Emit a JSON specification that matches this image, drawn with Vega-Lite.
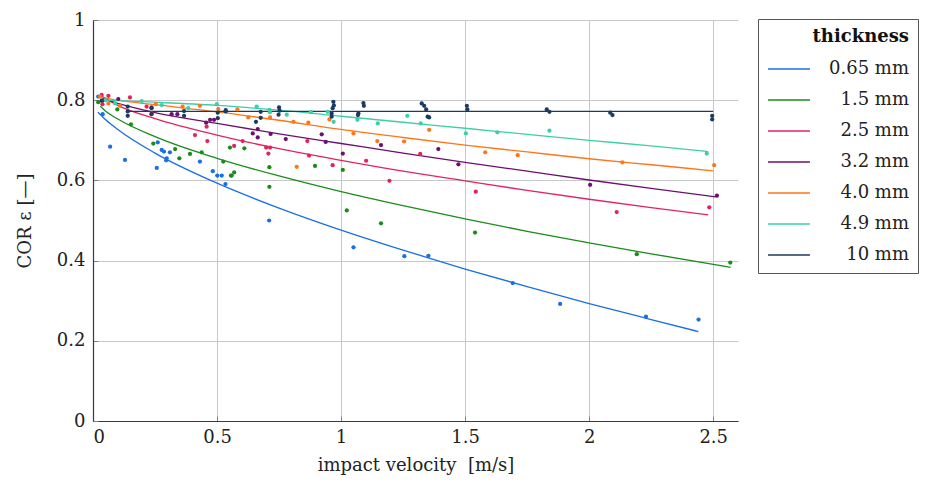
{
  "$schema": "https://vega.github.io/schema/vega-lite/v6.json",
  "width": 645,
  "height": 401,
  "autosize": "none",
  "padding": {"left": 93, "top": 20, "right": 188, "bottom": 65},
  "background": "white",
  "config": {
    "view": {"stroke": null},
    "font": "DejaVu Serif",
    "axis": {
      "domainColor": "#3a3a3a",
      "domainWidth": 1.2,
      "tickColor": "#808080",
      "tickSize": -5,
      "tickWidth": 1,
      "gridColor": "#c8c8c8",
      "gridWidth": 1,
      "labelFont": "DejaVu Serif",
      "labelFontSize": 18,
      "labelColor": "#222",
      "titleFont": "DejaVu Serif",
      "titleFontSize": 18,
      "titleFontWeight": "normal",
      "titleColor": "#222"
    },
    "legend": {
      "orient": "none",
      "legendX": 665,
      "legendY": -1,
      "strokeColor": "#555",
      "padding": 9,
      "titleFont": "DejaVu Serif",
      "titleFontSize": 18,
      "titleFontWeight": "bold",
      "titleColor": "#111",
      "titleAnchor": "end",
      "titleAlign": "right",
      "titlePadding": 1,
      "labelFont": "DejaVu Serif",
      "labelFontSize": 18,
      "labelColor": "#222",
      "symbolType": "stroke",
      "symbolSize": 1760,
      "symbolStrokeWidth": 1.3,
      "labelAlign": "right",
      "labelOffset": 98,
      "rowPadding": 0
    }
  },
  "datasets": {
    "fits": [
      {"t": "0.65 mm", "v": 0.02, "e": 0.770}, {"t": "0.65 mm", "v": 0.05, "e": 0.752}, {"t": "0.65 mm", "v": 0.1, "e": 0.727}, {"t": "0.65 mm", "v": 0.25, "e": 0.668}, {"t": "0.65 mm", "v": 0.5, "e": 0.593}, {"t": "0.65 mm", "v": 0.75, "e": 0.531}, {"t": "0.65 mm", "v": 1.0, "e": 0.476}, {"t": "0.65 mm", "v": 1.25, "e": 0.426}, {"t": "0.65 mm", "v": 1.5, "e": 0.379}, {"t": "0.65 mm", "v": 1.75, "e": 0.335}, {"t": "0.65 mm", "v": 2.0, "e": 0.293}, {"t": "0.65 mm", "v": 2.25, "e": 0.253}, {"t": "0.65 mm", "v": 2.44, "e": 0.223},
      {"t": "1.5 mm", "v": 0.03, "e": 0.785}, {"t": "1.5 mm", "v": 0.05, "e": 0.773}, {"t": "1.5 mm", "v": 0.1, "e": 0.753}, {"t": "1.5 mm", "v": 0.25, "e": 0.709}, {"t": "1.5 mm", "v": 0.5, "e": 0.655}, {"t": "1.5 mm", "v": 0.75, "e": 0.611}, {"t": "1.5 mm", "v": 1.0, "e": 0.572}, {"t": "1.5 mm", "v": 1.25, "e": 0.537}, {"t": "1.5 mm", "v": 1.5, "e": 0.504}, {"t": "1.5 mm", "v": 1.75, "e": 0.473}, {"t": "1.5 mm", "v": 2.0, "e": 0.444}, {"t": "1.5 mm", "v": 2.25, "e": 0.417}, {"t": "1.5 mm", "v": 2.57, "e": 0.383},
      {"t": "2.5 mm", "v": 0.03, "e": 0.812}, {"t": "2.5 mm", "v": 0.1, "e": 0.787}, {"t": "2.5 mm", "v": 0.25, "e": 0.754}, {"t": "2.5 mm", "v": 0.5, "e": 0.713}, {"t": "2.5 mm", "v": 0.75, "e": 0.679}, {"t": "2.5 mm", "v": 1.0, "e": 0.650}, {"t": "2.5 mm", "v": 1.25, "e": 0.623}, {"t": "2.5 mm", "v": 1.5, "e": 0.599}, {"t": "2.5 mm", "v": 1.75, "e": 0.575}, {"t": "2.5 mm", "v": 2.0, "e": 0.553}, {"t": "2.5 mm", "v": 2.25, "e": 0.532}, {"t": "2.5 mm", "v": 2.48, "e": 0.514},
      {"t": "3.2 mm", "v": 0.04, "e": 0.803}, {"t": "3.2 mm", "v": 0.1, "e": 0.792}, {"t": "3.2 mm", "v": 0.25, "e": 0.769}, {"t": "3.2 mm", "v": 0.5, "e": 0.742}, {"t": "3.2 mm", "v": 0.75, "e": 0.716}, {"t": "3.2 mm", "v": 1.0, "e": 0.692}, {"t": "3.2 mm", "v": 1.25, "e": 0.668}, {"t": "3.2 mm", "v": 1.5, "e": 0.645}, {"t": "3.2 mm", "v": 1.75, "e": 0.623}, {"t": "3.2 mm", "v": 2.0, "e": 0.601}, {"t": "3.2 mm", "v": 2.25, "e": 0.580}, {"t": "3.2 mm", "v": 2.51, "e": 0.559},
      {"t": "4.0 mm", "v": 0.03, "e": 0.808}, {"t": "4.0 mm", "v": 0.1, "e": 0.800}, {"t": "4.0 mm", "v": 0.25, "e": 0.789}, {"t": "4.0 mm", "v": 0.5, "e": 0.771}, {"t": "4.0 mm", "v": 0.75, "e": 0.750}, {"t": "4.0 mm", "v": 1.0, "e": 0.727}, {"t": "4.0 mm", "v": 1.25, "e": 0.707}, {"t": "4.0 mm", "v": 1.5, "e": 0.688}, {"t": "4.0 mm", "v": 1.75, "e": 0.671}, {"t": "4.0 mm", "v": 2.0, "e": 0.654}, {"t": "4.0 mm", "v": 2.25, "e": 0.639}, {"t": "4.0 mm", "v": 2.5, "e": 0.624},
      {"t": "4.9 mm", "v": 0.03, "e": 0.801}, {"t": "4.9 mm", "v": 0.1, "e": 0.799}, {"t": "4.9 mm", "v": 0.25, "e": 0.795}, {"t": "4.9 mm", "v": 0.5, "e": 0.787}, {"t": "4.9 mm", "v": 0.75, "e": 0.775}, {"t": "4.9 mm", "v": 1.0, "e": 0.760}, {"t": "4.9 mm", "v": 1.25, "e": 0.745}, {"t": "4.9 mm", "v": 1.5, "e": 0.730}, {"t": "4.9 mm", "v": 1.75, "e": 0.715}, {"t": "4.9 mm", "v": 2.0, "e": 0.700}, {"t": "4.9 mm", "v": 2.25, "e": 0.686}, {"t": "4.9 mm", "v": 2.48, "e": 0.672},
      {"t": "10 mm", "v": 0.14, "e": 0.772}, {"t": "10 mm", "v": 2.5, "e": 0.772}
    ],
    "pts": [
      {"t": "0.65 mm", "v": 0.021, "e": 0.809}, {"t": "0.65 mm", "v": 0.039, "e": 0.765}, {"t": "0.65 mm", "v": 0.069, "e": 0.684}, {"t": "0.65 mm", "v": 0.129, "e": 0.651}, {"t": "0.65 mm", "v": 0.261, "e": 0.695}, {"t": "0.65 mm", "v": 0.257, "e": 0.631}, {"t": "0.65 mm", "v": 0.277, "e": 0.676}, {"t": "0.65 mm", "v": 0.286, "e": 0.672}, {"t": "0.65 mm", "v": 0.297, "e": 0.655}, {"t": "0.65 mm", "v": 0.295, "e": 0.650}, {"t": "0.65 mm", "v": 0.31, "e": 0.670}, {"t": "0.65 mm", "v": 0.431, "e": 0.647}, {"t": "0.65 mm", "v": 0.483, "e": 0.623}, {"t": "0.65 mm", "v": 0.501, "e": 0.612}, {"t": "0.65 mm", "v": 0.519, "e": 0.612}, {"t": "0.65 mm", "v": 0.534, "e": 0.591}, {"t": "0.65 mm", "v": 0.556, "e": 0.612}, {"t": "0.65 mm", "v": 0.71, "e": 0.500}, {"t": "0.65 mm", "v": 1.05, "e": 0.433}, {"t": "0.65 mm", "v": 1.255, "e": 0.411}, {"t": "0.65 mm", "v": 1.352, "e": 0.412}, {"t": "0.65 mm", "v": 1.692, "e": 0.344}, {"t": "0.65 mm", "v": 1.883, "e": 0.292}, {"t": "0.65 mm", "v": 2.229, "e": 0.260}, {"t": "0.65 mm", "v": 2.441, "e": 0.253},
      {"t": "1.5 mm", "v": 0.021, "e": 0.795}, {"t": "1.5 mm", "v": 0.098, "e": 0.777}, {"t": "1.5 mm", "v": 0.153, "e": 0.740}, {"t": "1.5 mm", "v": 0.243, "e": 0.692}, {"t": "1.5 mm", "v": 0.331, "e": 0.678}, {"t": "1.5 mm", "v": 0.348, "e": 0.655}, {"t": "1.5 mm", "v": 0.391, "e": 0.666}, {"t": "1.5 mm", "v": 0.438, "e": 0.670}, {"t": "1.5 mm", "v": 0.525, "e": 0.647}, {"t": "1.5 mm", "v": 0.552, "e": 0.682}, {"t": "1.5 mm", "v": 0.569, "e": 0.620}, {"t": "1.5 mm", "v": 0.559, "e": 0.612}, {"t": "1.5 mm", "v": 0.61, "e": 0.680}, {"t": "1.5 mm", "v": 0.711, "e": 0.633}, {"t": "1.5 mm", "v": 0.711, "e": 0.584}, {"t": "1.5 mm", "v": 0.895, "e": 0.636}, {"t": "1.5 mm", "v": 1.007, "e": 0.626}, {"t": "1.5 mm", "v": 1.023, "e": 0.525}, {"t": "1.5 mm", "v": 1.161, "e": 0.493}, {"t": "1.5 mm", "v": 1.54, "e": 0.470}, {"t": "1.5 mm", "v": 2.192, "e": 0.416}, {"t": "1.5 mm", "v": 2.569, "e": 0.395},
      {"t": "2.5 mm", "v": 0.035, "e": 0.813}, {"t": "2.5 mm", "v": 0.062, "e": 0.811}, {"t": "2.5 mm", "v": 0.149, "e": 0.807}, {"t": "2.5 mm", "v": 0.038, "e": 0.790}, {"t": "2.5 mm", "v": 0.216, "e": 0.784}, {"t": "2.5 mm", "v": 0.236, "e": 0.767}, {"t": "2.5 mm", "v": 0.411, "e": 0.713}, {"t": "2.5 mm", "v": 0.458, "e": 0.734}, {"t": "2.5 mm", "v": 0.461, "e": 0.698}, {"t": "2.5 mm", "v": 0.569, "e": 0.686}, {"t": "2.5 mm", "v": 0.603, "e": 0.698}, {"t": "2.5 mm", "v": 0.698, "e": 0.682}, {"t": "2.5 mm", "v": 0.714, "e": 0.682}, {"t": "2.5 mm", "v": 0.707, "e": 0.667}, {"t": "2.5 mm", "v": 0.864, "e": 0.698}, {"t": "2.5 mm", "v": 0.871, "e": 0.662}, {"t": "2.5 mm", "v": 0.966, "e": 0.638}, {"t": "2.5 mm", "v": 1.101, "e": 0.649}, {"t": "2.5 mm", "v": 1.195, "e": 0.599}, {"t": "2.5 mm", "v": 1.319, "e": 0.666}, {"t": "2.5 mm", "v": 1.543, "e": 0.572}, {"t": "2.5 mm", "v": 2.111, "e": 0.521}, {"t": "2.5 mm", "v": 2.484, "e": 0.533},
      {"t": "3.2 mm", "v": 0.042, "e": 0.800}, {"t": "3.2 mm", "v": 0.102, "e": 0.803}, {"t": "3.2 mm", "v": 0.236, "e": 0.782}, {"t": "3.2 mm", "v": 0.317, "e": 0.765}, {"t": "3.2 mm", "v": 0.34, "e": 0.765}, {"t": "3.2 mm", "v": 0.456, "e": 0.744}, {"t": "3.2 mm", "v": 0.472, "e": 0.751}, {"t": "3.2 mm", "v": 0.488, "e": 0.751}, {"t": "3.2 mm", "v": 0.644, "e": 0.717}, {"t": "3.2 mm", "v": 0.664, "e": 0.728}, {"t": "3.2 mm", "v": 0.664, "e": 0.707}, {"t": "3.2 mm", "v": 0.716, "e": 0.716}, {"t": "3.2 mm", "v": 0.777, "e": 0.703}, {"t": "3.2 mm", "v": 0.922, "e": 0.715}, {"t": "3.2 mm", "v": 0.938, "e": 0.696}, {"t": "3.2 mm", "v": 1.007, "e": 0.667}, {"t": "3.2 mm", "v": 1.161, "e": 0.688}, {"t": "3.2 mm", "v": 1.392, "e": 0.678}, {"t": "3.2 mm", "v": 1.473, "e": 0.640}, {"t": "3.2 mm", "v": 2.004, "e": 0.589}, {"t": "3.2 mm", "v": 2.515, "e": 0.562},
      {"t": "4.0 mm", "v": 0.028, "e": 0.809}, {"t": "4.0 mm", "v": 0.062, "e": 0.792}, {"t": "4.0 mm", "v": 0.109, "e": 0.786}, {"t": "4.0 mm", "v": 0.253, "e": 0.790}, {"t": "4.0 mm", "v": 0.361, "e": 0.784}, {"t": "4.0 mm", "v": 0.431, "e": 0.786}, {"t": "4.0 mm", "v": 0.505, "e": 0.778}, {"t": "4.0 mm", "v": 0.582, "e": 0.777}, {"t": "4.0 mm", "v": 0.626, "e": 0.757}, {"t": "4.0 mm", "v": 0.714, "e": 0.757}, {"t": "4.0 mm", "v": 0.808, "e": 0.746}, {"t": "4.0 mm", "v": 0.821, "e": 0.634}, {"t": "4.0 mm", "v": 0.868, "e": 0.744}, {"t": "4.0 mm", "v": 0.953, "e": 0.752}, {"t": "4.0 mm", "v": 1.05, "e": 0.717}, {"t": "4.0 mm", "v": 1.146, "e": 0.698}, {"t": "4.0 mm", "v": 1.254, "e": 0.697}, {"t": "4.0 mm", "v": 1.355, "e": 0.726}, {"t": "4.0 mm", "v": 1.581, "e": 0.670}, {"t": "4.0 mm", "v": 1.712, "e": 0.663}, {"t": "4.0 mm", "v": 2.134, "e": 0.645}, {"t": "4.0 mm", "v": 2.504, "e": 0.638},
      {"t": "4.9 mm", "v": 0.05, "e": 0.800}, {"t": "4.9 mm", "v": 0.089, "e": 0.792}, {"t": "4.9 mm", "v": 0.196, "e": 0.798}, {"t": "4.9 mm", "v": 0.277, "e": 0.788}, {"t": "4.9 mm", "v": 0.384, "e": 0.780}, {"t": "4.9 mm", "v": 0.499, "e": 0.790}, {"t": "4.9 mm", "v": 0.66, "e": 0.784}, {"t": "4.9 mm", "v": 0.711, "e": 0.776}, {"t": "4.9 mm", "v": 0.713, "e": 0.770}, {"t": "4.9 mm", "v": 0.781, "e": 0.764}, {"t": "4.9 mm", "v": 0.878, "e": 0.770}, {"t": "4.9 mm", "v": 0.946, "e": 0.771}, {"t": "4.9 mm", "v": 0.97, "e": 0.746}, {"t": "4.9 mm", "v": 1.066, "e": 0.751}, {"t": "4.9 mm", "v": 1.148, "e": 0.742}, {"t": "4.9 mm", "v": 1.267, "e": 0.761}, {"t": "4.9 mm", "v": 1.321, "e": 0.742}, {"t": "4.9 mm", "v": 1.503, "e": 0.717}, {"t": "4.9 mm", "v": 1.63, "e": 0.720}, {"t": "4.9 mm", "v": 1.84, "e": 0.724}, {"t": "4.9 mm", "v": 2.474, "e": 0.667},
      {"t": "10 mm", "v": 0.035, "e": 0.799}, {"t": "10 mm", "v": 0.14, "e": 0.784}, {"t": "10 mm", "v": 0.14, "e": 0.772}, {"t": "10 mm", "v": 0.14, "e": 0.761}, {"t": "10 mm", "v": 0.236, "e": 0.780}, {"t": "10 mm", "v": 0.236, "e": 0.765}, {"t": "10 mm", "v": 0.367, "e": 0.773}, {"t": "10 mm", "v": 0.367, "e": 0.761}, {"t": "10 mm", "v": 0.503, "e": 0.769}, {"t": "10 mm", "v": 0.503, "e": 0.755}, {"t": "10 mm", "v": 0.535, "e": 0.775}, {"t": "10 mm", "v": 0.535, "e": 0.772}, {"t": "10 mm", "v": 0.657, "e": 0.746}, {"t": "10 mm", "v": 0.676, "e": 0.771}, {"t": "10 mm", "v": 0.676, "e": 0.756}, {"t": "10 mm", "v": 0.75, "e": 0.782}, {"t": "10 mm", "v": 0.752, "e": 0.774}, {"t": "10 mm", "v": 0.748, "e": 0.764}, {"t": "10 mm", "v": 0.969, "e": 0.796}, {"t": "10 mm", "v": 0.971, "e": 0.787}, {"t": "10 mm", "v": 0.966, "e": 0.780}, {"t": "10 mm", "v": 0.962, "e": 0.767}, {"t": "10 mm", "v": 0.962, "e": 0.759}, {"t": "10 mm", "v": 1.09, "e": 0.793}, {"t": "10 mm", "v": 1.092, "e": 0.786}, {"t": "10 mm", "v": 1.07, "e": 0.767}, {"t": "10 mm", "v": 1.068, "e": 0.763}, {"t": "10 mm", "v": 1.325, "e": 0.792}, {"t": "10 mm", "v": 1.335, "e": 0.786}, {"t": "10 mm", "v": 1.343, "e": 0.777}, {"t": "10 mm", "v": 1.349, "e": 0.759}, {"t": "10 mm", "v": 1.355, "e": 0.757}, {"t": "10 mm", "v": 1.507, "e": 0.786}, {"t": "10 mm", "v": 1.509, "e": 0.777}, {"t": "10 mm", "v": 1.829, "e": 0.777}, {"t": "10 mm", "v": 1.84, "e": 0.771}, {"t": "10 mm", "v": 2.085, "e": 0.769}, {"t": "10 mm", "v": 2.094, "e": 0.763}, {"t": "10 mm", "v": 2.496, "e": 0.761}, {"t": "10 mm", "v": 2.496, "e": 0.752}
    ]
  },
  "encoding": {
    "x": {
      "field": "v", "type": "quantitative",
      "scale": {"domain": [0, 2.6], "nice": false, "zero": false},
      "axis": {"title": "impact velocity\u00a0\u00a0[m/s]", "values": [0, 0.5, 1, 1.5, 2, 2.5], "format": "~g", "labelPadding": 12, "titlePadding": 10, "grid": true}
    },
    "y": {
      "field": "e", "type": "quantitative",
      "scale": {"domain": [0, 1], "nice": false},
      "axis": {"title": "COR ε [—]", "values": [0, 0.2, 0.4, 0.6, 0.8, 1], "format": "~g", "labelPadding": 13, "titlePadding": 22, "grid": true}
    },
    "color": {
      "field": "t", "type": "nominal",
      "scale": {
        "domain": ["0.65 mm", "1.5 mm", "2.5 mm", "3.2 mm", "4.0 mm", "4.9 mm", "10 mm"],
        "range": ["#1a6fe3", "#1a8c1a", "#e3245c", "#6c1070", "#ff7518", "#3ccfa8", "#1c3a62"]
      },
      "legend": {"title": "thickness"}
    }
  },
  "layer": [
    {
      "data": {"name": "fits"},
      "mark": {"type": "line", "strokeWidth": 1.3, "interpolate": "monotone"},
      "encoding": {"detail": {"field": "t"}}
    },
    {
      "data": {"name": "pts"},
      "mark": {"type": "circle", "size": 18, "opacity": 1}
    }
  ]
}
